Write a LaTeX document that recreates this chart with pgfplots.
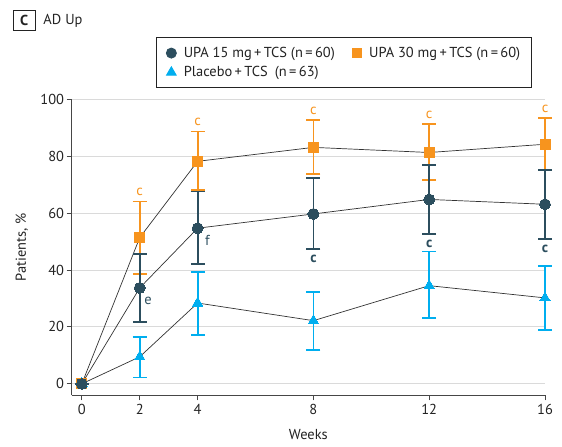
\documentclass[border=0pt]{standalone}
\usepackage{fontspec}
\setmainfont{PT Sans}
\usepackage{pgfplots}
\pgfplotsset{compat=1.18}
\definecolor{cOrange}{RGB}{247,148,30}
\definecolor{cDark}{RGB}{44,78,94}
\definecolor{cBlue}{RGB}{0,174,239}
\definecolor{cGrid}{RGB}{218,218,218}
\definecolor{cAxis}{RGB}{70,70,70}
\definecolor{cText}{RGB}{35,35,35}
\newcommand{\fs}{\fontsize{14.5}{17}\selectfont}
\begin{document}
\begin{tikzpicture}[x=1bp,y=1bp,font=\fs]
\useasboundingbox (0,0) rectangle (562,447);
\node[draw=cText, line width=0.9bp, minimum width=21.5bp, minimum height=20.5bp, inner sep=0pt, font=\fs\bfseries, text=cText] at (24.2,426.7) {C};
\node[anchor=west, text=cText, inner sep=0pt] at (43.3,426.5) {AD Up};
\begin{axis}[
  at={(71.7bp,51.5bp)}, anchor=south west,
  scale only axis, width=473.3bp, height=296.2bp,
  xmin=-0.35, xmax=16, ymin=-4.1, ymax=100,
  axis lines*=left,
  axis line style={-, draw=cAxis, line width=1bp},
  xtick={0,2,4,8,12,16}, ytick={0,20,...,100},
  ymajorgrids, grid style={cGrid, line width=1bp},
  tick align=outside, major tick length=5bp,
  tick style={cAxis, line width=0.9bp},
  /pgf/number format/assume math mode=true,
  ticklabel style={font=\fs, text=cText},
  yticklabel style={inner xsep=2.5bp},
  xlabel={Weeks}, ylabel={Patients, \%},
  label style={font=\fs, text=cText},
  xlabel style={at={(axis description cs:0.5,-0.133)}, anchor=center},
  ylabel style={at={(axis description cs:-0.1056,0.5)}, anchor=center},
  clip=false,
  legend columns=2,
  legend cell align=left,
  legend image code/.code={\draw[#1] plot coordinates {(0bp,0bp)}; \path (-5.5bp,0bp) (10bp,0bp);},
  legend style={at={(axis description cs:0.178,1.2086)}, anchor=north west, draw=cText, line width=0.9bp,
    font=\fs, text=cText, inner xsep=9bp, inner ysep=5.5bp,
    nodes={inner ysep=3.75bp},
    /tikz/every even column/.append style={column sep=14bp}},
]
% Placebo + TCS
\addplot[forget plot, line width=0.7bp, color=black!80, mark=triangle*, mark size=6bp,
  mark options={fill=cBlue, draw=cBlue, line width=0pt},
  error bars/.cd, y dir=both, y explicit,
  error bar style={cBlue, line width=1.8bp},
  error mark options={rotate=90, mark size=7bp, cBlue, line width=1.8bp}]
coordinates {
 (0,0) +=(0,0) -=(0,0)
 (2,9.5) +=(0,7.0) -=(0,7.3)
 (4,28.4) +=(0,11.0) -=(0,11.1)
 (8,22.2) +=(0,10.2) -=(0,10.2)
 (12,34.5) +=(0,12.0) -=(0,11.5)
 (16,30.2) +=(0,11.3) -=(0,11.3)
};
% UPA 30 mg + TCS
\addplot[forget plot, line width=0.7bp, color=black!80, mark=square*, mark size=5bp,
  mark options={fill=cOrange, draw=cOrange, line width=0pt},
  error bars/.cd, y dir=both, y explicit,
  error bar style={cOrange, line width=1.8bp},
  error mark options={rotate=90, mark size=7bp, cOrange, line width=1.8bp}]
coordinates {
 (0,0) +=(0,0) -=(0,0)
 (2,51.4) +=(0,12.7) -=(0,12.7)
 (4,78.2) +=(0,10.5) -=(0,10.2)
 (8,83.1) +=(0,9.5) -=(0,9.3)
 (12,81.3) +=(0,10.0) -=(0,9.6)
 (16,84.2) +=(0,9.1) -=(0,9.2)
};
% UPA 15 mg + TCS
\addplot[forget plot, line width=0.7bp, color=black!80, mark=*, mark size=5.5bp,
  mark options={fill=cDark, draw=cDark, line width=0pt},
  error bars/.cd, y dir=both, y explicit,
  error bar style={cDark, line width=1.8bp},
  error mark options={rotate=90, mark size=7bp, cDark, line width=1.8bp}]
coordinates {
 (0,0) +=(0,0) -=(0,0)
 (2,33.7) +=(0,12.0) -=(0,12.1)
 (4,54.7) +=(0,12.9) -=(0,12.6)
 (8,59.7) +=(0,12.5) -=(0,12.3)
 (12,64.8) +=(0,12.0) -=(0,12.1)
 (16,63.1) +=(0,12.1) -=(0,12.2)
};
\addlegendimage{mark=*, mark size=5bp, mark options={fill=cDark, draw=cDark}}
\addlegendentry{UPA 15 mg\,+\,TCS (n\,=\,60)}
\addlegendimage{mark=square*, mark size=4.5bp, mark options={fill=cOrange, draw=cOrange}}
\addlegendentry{UPA 30 mg\,+\,TCS (n\,=\,60)}
\addlegendimage{mark=triangle*, mark size=5.5bp, mark options={fill=cBlue, draw=cBlue}}
\addlegendentry{Placebo\,+\,TCS\enspace(n\,=\,63)}
% significance letters
\foreach \xx/\yy in {2/64.1, 4/88.7, 8/92.6, 12/91.3, 16/93.3} {
  \edef\tmp{\noexpand\node[anchor=base, text=cOrange, font=\noexpand\fs, inner sep=0pt, yshift=5.5bp] at (axis cs:\xx,\yy) {c};}\tmp
}
\foreach \xx/\yy in {8/47.4, 12/52.7, 16/50.9} {
  \edef\tmp{\noexpand\node[anchor=base, text=cDark, font=\noexpand\fs\noexpand\bfseries, inner sep=0pt, yshift=-13.5bp] at (axis cs:\xx,\yy) {c};}\tmp
}
\node[text=cDark, font=\fs, inner sep=0pt] at (axis cs:2.29,29.3) {e};
\node[text=cDark, font=\fs, inner sep=0pt] at (axis cs:4.34,50.4) {f};
\end{axis}
\end{tikzpicture}
\end{document}
